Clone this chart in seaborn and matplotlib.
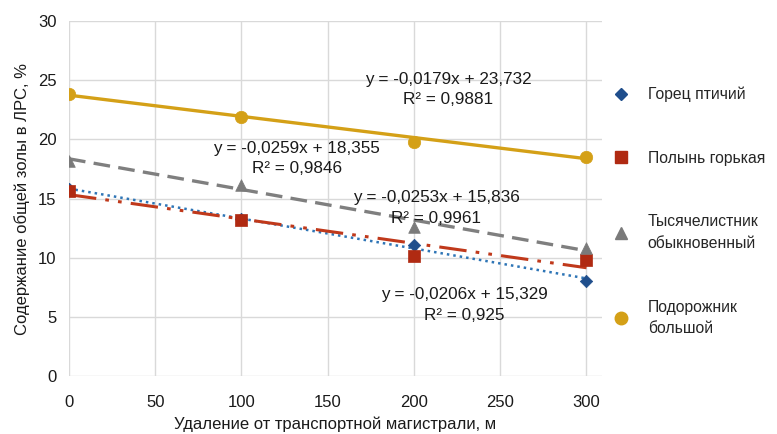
import numpy as np
import pandas as pd
import matplotlib
matplotlib.use("Agg")
import matplotlib.pyplot as plt
from matplotlib.lines import Line2D
import seaborn as sns

# данные с графика
distance = [0, 100, 200, 300]
species = ["Горец птичий", "Полынь горькая", "Тысячелистник\nобыкновенный", "Подорожник\nбольшой"]
gorets = [15.8, 13.3, 11.1, 8.0]
polyn = [15.6, 13.2, 10.1, 9.8]
tysyach = [18.2, 16.1, 12.6, 10.8]
podorozh = [23.8, 21.9, 19.8, 18.5]

# линии тренда (подписи на графике)
slopes = [-0.0253, -0.0206, -0.0259, -0.0179]
intercepts = [15.836, 15.329, 18.355, 23.732]
r2 = [0.9961, 0.925, 0.9846, 0.9881]

colors = ["#1F4E8C", "#B02A12", "#7A7A7A", "#D4A017"]
line_colors = ["#2E75B6", "#C0391B", "#7F7F7F", "#D4A017"]
markers = ["D", "s", "^", "o"]
msizes = [40, 80, 70, 80]
dashes = [(1, 1.6), (9, 3, 1.2, 3, 1.2, 3), (5, 2.5), ()]
lws = [1.8, 2.2, 2.4, 2.4]

sns.set_style("whitegrid")
plt.rcParams['font.family'] = ['Liberation Sans', 'DejaVu Sans']

df = pd.DataFrame({
    "x": distance * 4,
    "y": gorets + polyn + tysyach + podorozh,
    "sp": [s for s in species for _ in distance],
})

fig = plt.figure(figsize=(7.77, 4.34), dpi=100)
ax = fig.add_axes([0.0888, 0.1336, 0.686, 0.818])

xs = np.array([0, 300])
for i in range(4):
    ax.plot(xs, slopes[i] * xs + intercepts[i], color=line_colors[i], lw=lws[i],
            dashes=dashes[i], zorder=2)

for i, s in enumerate(species):
    sub = df[df.sp == s]
    sns.scatterplot(data=sub, x="x", y="y", marker=markers[i], s=msizes[i],
                    color=colors[i], edgecolor=colors[i], linewidth=0.5,
                    ax=ax, zorder=3, legend=False)

# подписи уравнений
label_pos = [(213, 15.7), (229, 7.5), (132, 19.9), (220, 25.7)]
for i, (lx, ly) in enumerate(label_pos):
    txt = "y = {}x + {}\nR² = {}".format(
        f"{slopes[i]:.4f}".replace(".", ","),
        f"{intercepts[i]:.3f}".replace(".", ","),
        f"{r2[i]:.4f}".rstrip("0").replace(".", ","))
    ax.text(lx, ly, txt, ha="center", va="top", fontsize=12.3, color="#1A1A1A",
            linespacing=1.45, zorder=4)

ax.set_xlim(0, 309)
ax.set_ylim(0, 30)
ax.set_xticks([0, 50, 100, 150, 200, 250, 300])
ax.set_yticks(range(0, 31, 5))
ax.grid(True, color="#D9D9D9", lw=1)
for sp in ax.spines.values():
    sp.set_visible(False)
ax.tick_params(length=0, labelsize=12, colors="#1A1A1A")
ax.tick_params(axis="x", pad=14)
ax.tick_params(axis="y", pad=9)
ax.set_xlabel("Удаление от транспортной магистрали, м", fontsize=12, color="#1A1A1A", labelpad=4)
ax.set_ylabel("Содержание общей золы в ЛРС, %", fontsize=12, color="#1A1A1A", labelpad=6)

handles = [Line2D([], [], ls="", marker=markers[i], color=colors[i],
                  markersize=[6, 9, 8, 9][i]) for i in range(4)]
leg = fig.legend(handles, species, loc="upper left", bbox_to_anchor=(0.779, 0.815),
                 frameon=False, fontsize=11.3, labelspacing=3.1, handletextpad=1.1,
                 handlelength=1.2, borderaxespad=0)
for t in leg.get_texts():
    t.set_linespacing(1.55)

fig.savefig("out.png", dpi=100)
